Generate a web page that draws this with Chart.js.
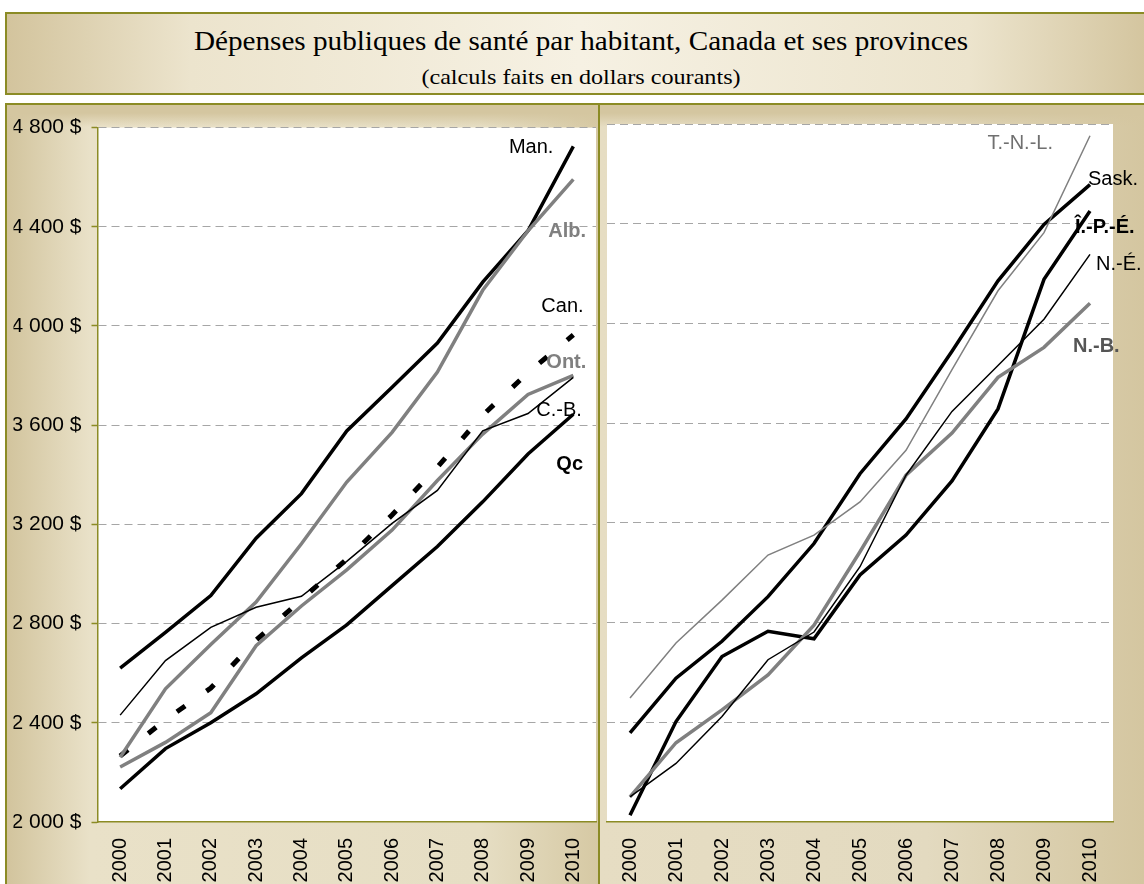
<!DOCTYPE html>
<html lang="fr">
<head>
<meta charset="utf-8">
<title>Dépenses publiques de santé par habitant</title>
<script src="https://cdn.jsdelivr.net/npm/chart.js@4.4.1/dist/chart.umd.min.js"></script>
<style>
  html, body { margin: 0; padding: 0; background: #fff; overflow: hidden; }
  body { width: 1144px; height: 884px; position: relative; }
  #titre {
    position: absolute; left: 5px; top: 12px; width: 1150px; height: 83px;
    box-sizing: border-box; border: 2px solid #8b8b25;
    background: linear-gradient(to right, #d3c49d 0%, #ece4cd 16%, #f6f1e3 50%, #ece4cd 84%, #d3c49d 100%);
  }
  #titre div {
    position: absolute; left: 0; width: 1148px; text-align: center; color: #000;
    font-family: "Times New Roman", "Liberation Serif", serif; white-space: nowrap;
    transform-origin: 574px 0;
  }
  #titre .t1 { top: 12px; font-size: 27px; transform: scaleX(1.08); }
  #titre .t2 { top: 51px; font-size: 21px; transform: scaleX(1.15); }
  #cadre {
    position: absolute; left: 5px; top: 103px; width: 1150px; height: 800px;
    box-sizing: border-box; border: 2px solid #8b8b25;
  }
  #gauche {
    position: absolute; left: 0; top: 0; width: 591px; height: 779px;
    background:
      linear-gradient(to bottom, #d4c6a0 0px, #d4c6a0 8px, rgba(212,198,160,0) 22px),
      linear-gradient(to right, #d2c49d 0%, #e9e1c8 14%, #e6dec4 80%, #d6c9a4 100%);
  }
  #sep { position: absolute; left: 591px; top: 0; width: 2px; height: 800px; background: #8b8b25; }
  #droite {
    position: absolute; left: 593px; top: 0; width: 544px; height: 779px;
    background:
      linear-gradient(to bottom, #d4c6a0 0px, #d4c6a0 8px, rgba(212,198,160,0) 22px),
      linear-gradient(to right, #e6ddc3 0%, #e3dac0 60%, #d4c6a0 100%);
  }
  canvas { display: block; }
</style>
</head>
<body>
<div id="titre">
  <div class="t1">Dépenses publiques de santé par habitant, Canada et ses provinces</div>
  <div class="t2">(calculs faits en dollars courants)</div>
</div>
<div id="cadre">
  <div id="gauche"><canvas id="c1" width="591" height="779"></canvas></div>
  <div id="sep"></div>
  <div id="droite"><canvas id="c2" width="544" height="779"></canvas></div>
</div>
<script>
// years on the x axis
const annees = ['2000', '2001', '2002', '2003', '2004', '2005', '2006', '2007', '2008', '2009', '2010'];

// left panel ($ per inhabitant)
const manitoba   = [2620, 2765, 2913, 3144, 3324, 3577, 3753, 3931, 4177, 4384, 4724];
const alberta    = [2261, 2537, 2716, 2887, 3122, 3371, 3571, 3814, 4144, 4384, 4591];
const canada     = [2266, 2412, 2540, 2733, 2897, 3060, 3238, 3431, 3640, 3812, 3964];
const ontario    = [2222, 2321, 2441, 2711, 2871, 3017, 3177, 3377, 3564, 3724, 3801];
const colombieB  = [2431, 2651, 2785, 2866, 2910, 3051, 3204, 3337, 3577, 3647, 3793];
const quebec     = [2134, 2296, 2400, 2517, 2662, 2795, 2953, 3111, 3291, 3484, 3644];

// right panel
const terreNeuve = [2497, 2718, 2890, 3071, 3151, 3284, 3491, 3815, 4131, 4364, 4753];
const saskatch   = [2358, 2577, 2725, 2904, 3117, 3397, 3617, 3888, 4171, 4397, 4557];
const ilePE      = [2027, 2403, 2664, 2765, 2735, 2991, 3151, 3368, 3657, 4177, 4451];
const nouvelleE  = [2101, 2235, 2423, 2651, 2762, 3024, 3391, 3647, 3831, 4017, 4277];
const nouveauB   = [2101, 2318, 2450, 2590, 2790, 3084, 3391, 3560, 3784, 3904, 4081];

const Y_MIN = 2000, Y_MAX = 4800, Y_PAS = 400;

const OLIVE = '#8b8b25';
const NOIR = '#000000';
const GRIS = '#808080';
const POLICE = 'Arial, "Liberation Sans", sans-serif';

Chart.defaults.font.family = POLICE;

function fmtDollars(v) {
  return String(v).replace(/\B(?=(\d{3})+(?!\d))/g, ' ') + ' $';
}

// white plot area over the beige panel
const fondBlanc = {
  id: 'fondBlanc',
  beforeDraw(chart) {
    const { ctx, chartArea: a } = chart;
    ctx.save();
    ctx.fillStyle = '#ffffff';
    ctx.fillRect(a.left, a.top, a.right - a.left, a.bottom - a.top);
    ctx.restore();
  }
};

// series names placed next to the last point of each line
const etiquettes = {
  id: 'etiquettes',
  afterDatasetsDraw(chart, args, opts) {
    const ctx = chart.ctx;
    (opts.items || []).forEach(it => {
      const meta = chart.getDatasetMeta(it.serie);
      const pt = meta.data[meta.data.length - 1];
      ctx.save();
      ctx.font = (it.gras ? 'bold ' : '') + '20px ' + POLICE;
      ctx.fillStyle = it.couleur;
      ctx.textAlign = it.align;
      ctx.textBaseline = 'middle';
      ctx.fillText(it.texte, pt.x + it.dx, pt.y + it.dy);
      ctx.restore();
    });
  }
};

function serie(data, couleur, epaisseur, tirets) {
  return {
    data,
    borderColor: couleur,
    borderWidth: epaisseur,
    borderDash: tirets || [],
    pointRadius: 0,
    tension: 0,
    fill: false
  };
}

function options(axeY, padding, items) {
  return {
    responsive: false,
    animation: false,
    layout: { padding },
    plugins: {
      legend: { display: false },
      tooltip: { enabled: false },
      etiquettes: { items }
    },
    scales: {
      x: {
        type: 'category',
        offset: true,
        grid: { display: false, drawTicks: false },
        border: { display: true, color: OLIVE, width: 1.5 },
        ticks: {
          autoSkip: false, minRotation: 90, maxRotation: 90, padding: 16,
          color: '#000', font: { size: 20 }
        },
        afterFit(s) { s.height = 62; s.paddingLeft = 0; s.paddingRight = 0; }
      },
      y: {
        min: Y_MIN, max: Y_MAX,
        ticks: {
          stepSize: Y_PAS, display: axeY, padding: 10,
          color: '#000', font: { size: 21 }, callback: v => fmtDollars(v)
        },
        grid: {
          color: c => (c.tick && c.tick.value === Y_MIN) ? 'rgba(0,0,0,0)' : '#a6a6a6',
          lineWidth: 1,
          drawTicks: axeY, tickLength: 6, tickColor: OLIVE, tickWidth: 1.5, tickBorderDash: []
        },
        border: { display: axeY, color: OLIVE, width: 1.5, dash: [8, 5] },
        afterFit(s) { s.width = axeY ? 84 : 0; }
      }
    }
  };
}

new Chart(document.getElementById('c1'), {
  type: 'line',
  data: {
    labels: annees,
    datasets: [
      serie(colombieB, NOIR, 1.5),
      serie(ontario, GRIS, 3.5),
      serie(alberta, GRIS, 3.5),
      serie(quebec, NOIR, 3.5),
      serie(manitoba, NOIR, 3.5),
      serie(canada, NOIR, 5, [10, 26])
    ]
  },
  options: options(true, { left: 6.5, top: 19, right: 2, bottom: 0 }, [
    { serie: 4, texte: 'Man.',  align: 'right', dx: -20, dy: 1,   gras: false, couleur: NOIR },
    { serie: 2, texte: 'Alb.',  align: 'left',  dx: -25, dy: 52,  gras: true,  couleur: GRIS },
    { serie: 5, texte: 'Can.',  align: 'left',  dx: -32, dy: -28, gras: false, couleur: NOIR },
    { serie: 1, texte: 'Ont.',  align: 'left',  dx: -27, dy: -13, gras: true,  couleur: GRIS },
    { serie: 0, texte: 'C.-B.', align: 'left',  dx: -37, dy: 33,  gras: false, couleur: NOIR },
    { serie: 3, texte: 'Qc',    align: 'left',  dx: -17, dy: 50,  gras: true,  couleur: NOIR }
  ]),
  plugins: [fondBlanc, etiquettes]
});

new Chart(document.getElementById('c2'), {
  type: 'line',
  data: {
    labels: annees,
    datasets: [
      serie(terreNeuve, GRIS, 1.5),
      serie(nouvelleE, NOIR, 1.5),
      serie(nouveauB, GRIS, 3.5),
      serie(saskatch, NOIR, 3.5),
      serie(ilePE, NOIR, 3.5)
    ]
  },
  options: options(false, { left: 7, top: 19, right: 31, bottom: 0 }, [
    { serie: 0, texte: 'T.-N.-L.', align: 'right', dx: -37, dy: 8,  gras: false, couleur: '#707070' },
    { serie: 3, texte: 'Sask.',    align: 'left',  dx: -2,  dy: -5, gras: false, couleur: NOIR },
    { serie: 4, texte: 'Î.-P.-É.', align: 'left',  dx: -15, dy: 16, gras: true,  couleur: NOIR },
    { serie: 1, texte: 'N.-É.',    align: 'left',  dx: 6,   dy: 10, gras: false, couleur: NOIR },
    { serie: 2, texte: 'N.-B.',    align: 'left',  dx: -17, dy: 43, gras: true,  couleur: '#555555' }
  ]),
  plugins: [fondBlanc, etiquettes]
});
</script>
</body>
</html>
